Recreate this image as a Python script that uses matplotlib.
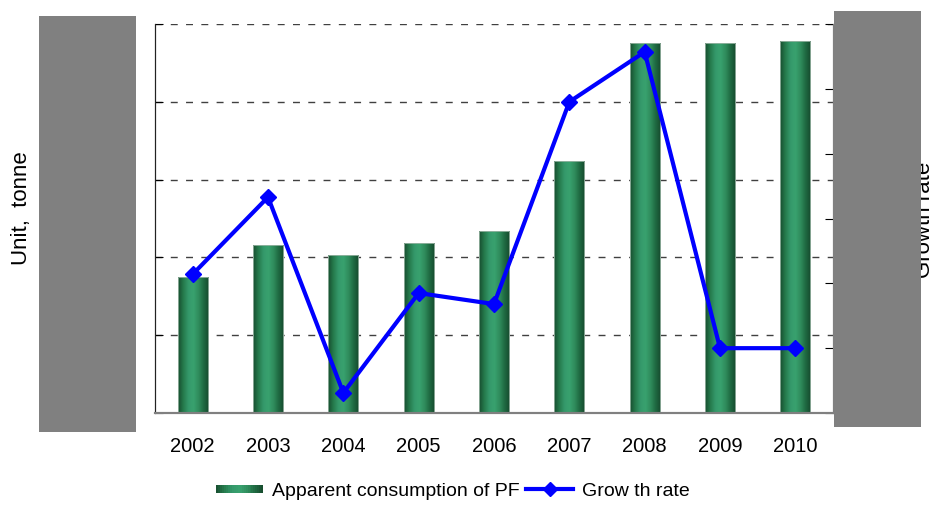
import numpy as np
import matplotlib
matplotlib.use('Agg')
import matplotlib.pyplot as plt
from matplotlib.colors import LinearSegmentedColormap
from matplotlib.patches import Rectangle
from matplotlib.legend_handler import HandlerPatch
from matplotlib.lines import Line2D
import matplotlib.ticker as mticker

plt.rcParams['font.family'] = ['Liberation Sans', 'DejaVu Sans']

# data
years = ['2002', '2003', '2004', '2005', '2006', '2007', '2008', '2009', '2010']
consumption = [52400, 64800, 60800, 65500, 70200, 97200, 142700, 142700, 143400]
growth = [0.114, 0.233, -0.069, 0.085, 0.068, 0.380, 0.457, 0.000, 0.000]

BAR_LABEL = 'Apparent consumption of PF'
LINE_LABEL = 'Grow th rate'

cyl = LinearSegmentedColormap.from_list(
    'cyl', ['#174d2f', '#257a4c', '#34986a', '#39a26f', '#2f8c5c', '#1f6a42', '#164a2d'])


class HandlerGradient(HandlerPatch):
    '''legend key drawn as a row of thin stripes'''

    def create_artists(self, legend, orig_handle, xdescent, ydescent,
                       width, height, fontsize, trans):
        n = 24
        arts = []
        for i in range(n):
            r = Rectangle((-xdescent + width * i / n, -ydescent + height * 0.2),
                          width / n * 1.05, height * 0.6,
                          facecolor=cyl((i + 0.5) / n), edgecolor='none',
                          transform=trans)
            arts.append(r)
        return arts


fig = plt.figure(figsize=(9.34, 5.08), dpi=100)
ax = fig.add_axes([155 / 934, 1 - 413 / 508, 678 / 934, 389 / 508])
ax2 = ax.twinx()

x = np.arange(len(years))
bw = 0.4
grad = np.linspace(0, 1, 64).reshape(1, -1)
for xi, v in zip(x, consumption):
    rect = Rectangle((xi - bw / 2, 0), bw, v, facecolor='none',
                     edgecolor='#9ab5a5', lw=0.6, zorder=3)
    ax.add_patch(rect)
    im = ax.imshow(grad, extent=[xi - bw / 2, xi + bw / 2, 0, v],
                   aspect='auto', cmap=cyl, zorder=2, interpolation='bilinear')
    im.set_clip_path(rect)

ax.set_xlim(-0.5, len(years) - 0.5)
ax.set_ylim(0, 150000)
ax.set_yticks(np.arange(0, 150001, 30000))
ax.yaxis.set_major_formatter(
    mticker.FuncFormatter(lambda v, p: f'{int(v):,}'.replace(',', ' ')))
ax.set_xticks(x)
ax.set_xticklabels(years)
ax.tick_params(axis='x', length=0, pad=17, labelsize=14.5)
ax.tick_params(axis='y', direction='in', length=6, pad=18, labelsize=15)
ax.grid(axis='y', color='#404040', lw=1, linestyle=(0, (5, 6)), zorder=1)
ax.set_axisbelow(True)

ax2.plot(x, growth, color='#0000ff', lw=3, marker='D', markersize=8,
         zorder=5, solid_joinstyle='miter')
ax2.set_ylim(-0.1, 0.5)
ax2.set_yticks(np.arange(-0.1, 0.51, 0.1))
ax2.yaxis.set_major_formatter(mticker.PercentFormatter(1.0, decimals=0))
ax2.tick_params(axis='y', direction='in', length=6, labelsize=14)

for a in (ax, ax2):
    a.spines['top'].set_visible(False)
    a.spines['left'].set_color('#222222')
    a.spines['bottom'].set_color('#808080')
    a.spines['bottom'].set_linewidth(1.5)
    a.spines['right'].set_color('#808080')

fig.text(22 / 934, 1 - 208 / 508, 'Unit,  tonne', rotation=90,
         ha='center', va='center', fontsize=16)
fig.text(925 / 934, 1 - 220 / 508, 'Growth rate', rotation=90,
         ha='center', va='center', fontsize=16)

# grey boxes that hide the axis numbers
fig.patches.append(Rectangle((39 / 934, 1 - 432 / 508), 97 / 934, 416 / 508,
                             transform=fig.transFigure, facecolor='#808080',
                             edgecolor='none', zorder=10))
fig.patches.append(Rectangle((834 / 934, 1 - 427 / 508), 87 / 934, 416 / 508,
                             transform=fig.transFigure, facecolor='#808080',
                             edgecolor='none', zorder=10))

bar_handle = Rectangle((0, 0), 1, 1, facecolor='#2a7a50')
line_handle = Line2D([], [], color='#0000ff', lw=3, marker='D', markersize=7)
fig.legend([bar_handle, line_handle], [BAR_LABEL, LINE_LABEL],
           handler_map={Rectangle: HandlerGradient()},
           loc='center', bbox_to_anchor=(453 / 934, 1 - 491 / 508),
           ncol=2, frameon=False, fontsize=14, handlelength=2.4,
           handletextpad=0.45, columnspacing=0.35, borderpad=0)

fig.savefig('out.png', dpi=100)
